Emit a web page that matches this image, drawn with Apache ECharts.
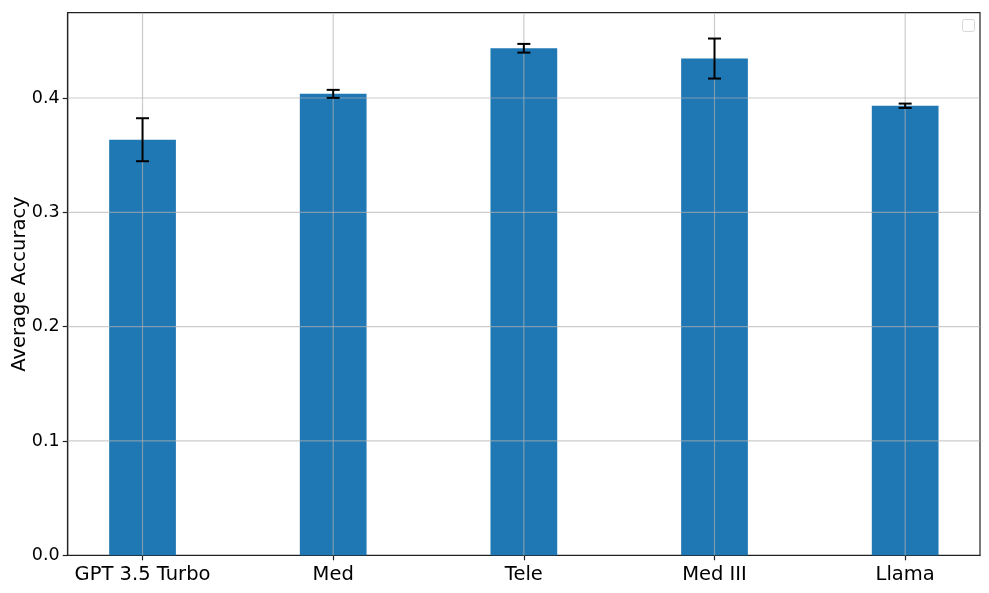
<!DOCTYPE html>
<html>
<head>
<meta charset="utf-8">
<title>Average Accuracy</title>
<script src="https://cdn.jsdelivr.net/npm/echarts@6/dist/echarts.min.js"></script>
<style>
  html, body { margin: 0; padding: 0; background: #fff; }
  #chart { width: 989px; height: 593px; }
</style>
</head>
<body>
<div id="chart"></div>
<script>
// values
var categories = ['GPT 3.5 Turbo', 'Med', 'Tele', 'Med III', 'Llama'];
var accuracy = [0.3635, 0.4036, 0.4435, 0.4345, 0.3932];
var errors = [0.0188, 0.0035, 0.0038, 0.0175, 0.0019];
var yTicks = [0, 0.1, 0.2, 0.3, 0.4];

var BAR_W = 0.35;
var X_MIN = -0.3925, X_MAX = 4.3925;
var Y_MAX = 0.4746;
var FONT = 'DejaVu Sans';
var GRID_COLOR = 'rgba(176,176,176,0.65)';

var xIdx = categories.map(function (c, i) { return i; });

var barData = accuracy.map(function (v, i) { return [i, v]; });
var errData = accuracy.map(function (v, i) { return [i, v - errors[i], v + errors[i]]; });

var chart = echarts.init(document.getElementById('chart'));

var option = {
    animation: false,
    backgroundColor: '#fff',
    grid: {
        left: 67.7, right: 9, top: 12.7, bottom: 37.7,
        containLabel: false, outerBoundsMode: 'none',
        show: true, borderColor: '#222', borderWidth: 1.2, backgroundColor: 'transparent'
    },
    xAxis: {
        type: 'value',
        min: X_MIN, max: X_MAX,
        axisLine: { show: true, onZero: false, lineStyle: { color: '#222', width: 1.2 } },
        axisTick: { show: true, length: 5, customValues: xIdx, lineStyle: { color: '#222', width: 1.2 } },
        axisLabel: {
            customValues: xIdx,
            formatter: function (v) { return categories[Math.round(v)]; },
            color: '#000', fontFamily: FONT, fontSize: 19.5, margin: 10
        },
        splitLine: { show: false }
    },
    yAxis: {
        type: 'value',
        min: 0, max: Y_MAX,
        name: 'Average Accuracy',
        nameLocation: 'middle',
        nameGap: 38,
        nameMoveOverlap: false,
        nameTextStyle: { color: '#000', fontFamily: FONT, fontSize: 19.5 },
        axisLine: { show: true, onZero: false, lineStyle: { color: '#222', width: 1.2 } },
        axisTick: { show: true, length: 5, customValues: yTicks, lineStyle: { color: '#222', width: 1.2 } },
        axisLabel: {
            customValues: yTicks,
            formatter: function (v) { return v.toFixed(1); },
            color: '#000', fontFamily: FONT, fontSize: 17.5, margin: 8
        },
        splitLine: { show: false }
    },
    series: [
        {
            // bars
            type: 'custom',
            z: 2,
            data: barData,
            encode: { x: 0, y: 1 },
            renderItem: function (params, api) {
                var x = api.value(0), y = api.value(1);
                var p0 = api.coord([x - BAR_W / 2, y]);
                var p1 = api.coord([x + BAR_W / 2, 0]);
                return {
                    type: 'rect',
                    shape: { x: p0[0], y: p0[1], width: p1[0] - p0[0], height: p1[1] - p0[1] },
                    style: { fill: '#1f77b4' }
                };
            }
        },
        {
            // vertical grid lines, drawn over the bars
            type: 'custom',
            z: 3,
            silent: true,
            data: xIdx.map(function (i) { return [i, 0]; }),
            encode: { x: 0, y: 1 },
            renderItem: function (params, api) {
                var x = api.value(0);
                var a = api.coord([x, 0]);
                var b = api.coord([x, Y_MAX]);
                return {
                    type: 'line',
                    shape: { x1: a[0], y1: a[1], x2: b[0], y2: b[1] },
                    style: { stroke: GRID_COLOR, lineWidth: 1.2 }
                };
            }
        },
        {
            // horizontal grid lines
            type: 'custom',
            z: 3,
            silent: true,
            data: yTicks.slice(1).map(function (t) { return [0, t]; }),
            encode: { x: 0, y: 1 },
            renderItem: function (params, api) {
                var y = api.value(1);
                var a = api.coord([X_MIN, y]);
                var b = api.coord([X_MAX, y]);
                return {
                    type: 'line',
                    shape: { x1: a[0], y1: a[1], x2: b[0], y2: b[1] },
                    style: { stroke: GRID_COLOR, lineWidth: 1.2 }
                };
            }
        },
        {
            // error bars
            type: 'custom',
            z: 4,
            data: errData,
            encode: { x: 0, y: [1, 2] },
            renderItem: function (params, api) {
                var x = api.value(0);
                var lo = api.coord([x, api.value(1)]);
                var hi = api.coord([x, api.value(2)]);
                var cap = 6.5;
                var st = { stroke: '#000', lineWidth: 2 };
                return {
                    type: 'group',
                    children: [
                        { type: 'line', shape: { x1: lo[0], y1: lo[1], x2: hi[0], y2: hi[1] }, style: st },
                        { type: 'line', shape: { x1: hi[0] - cap, y1: hi[1], x2: hi[0] + cap, y2: hi[1] }, style: st },
                        { type: 'line', shape: { x1: lo[0] - cap, y1: lo[1], x2: lo[0] + cap, y2: lo[1] }, style: st }
                    ]
                };
            }
        }
    ],
    graphic: [
        // empty legend box top right
        {
            type: 'rect',
            left: 962, top: 19,
            shape: { width: 12, height: 12, r: 2 },
            style: { fill: '#fff', stroke: '#d8d8d8', lineWidth: 1 }
        }
    ]
};

chart.setOption(option);
</script>
</body>
</html>
